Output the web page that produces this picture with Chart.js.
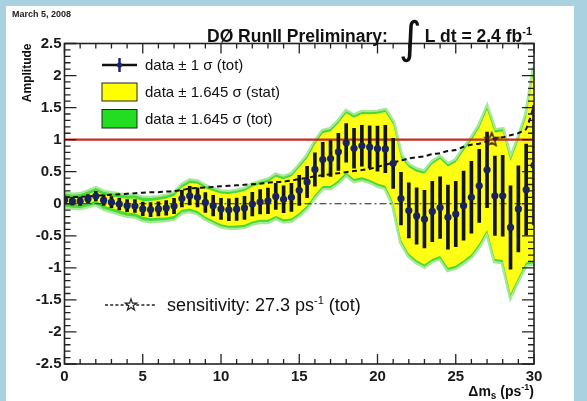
<!DOCTYPE html>
<html>
<head>
<meta charset="utf-8">
<script src="https://cdn.jsdelivr.net/npm/chart.js@4.4.1/dist/chart.umd.min.js"></script>
<style>
  html, body { margin:0; padding:0; }
  body { width:587px; height:401px; background:#a9d1e0; position:relative; overflow:hidden; font-family:'Liberation Sans', Arial, sans-serif; }
  #panel { position:absolute; left:6px; top:6px; width:568px; height:395px; background:#ffffff; }
  #c { position:absolute; left:0; top:0; }
  #ov { position:absolute; left:0; top:0; }
</style>
</head>
<body>
<div id="panel"></div>
<canvas id="c" width="587" height="401"></canvas>
<svg id="ov" width="587" height="401" xmlns="http://www.w3.org/2000/svg" font-family="'Liberation Sans', Arial, sans-serif">
  <text x="12" y="17" font-size="9" font-weight="bold" fill="#222">March 5, 2008</text>
  <text x="207" y="42" font-size="17.5" font-weight="bold" fill="#111">DØ RunII Preliminary:</text>
  <text x="399" y="53" font-size="44" font-family="'DejaVu Sans'" fill="#111">∫</text>
  <text x="532" y="42" font-size="17.5" font-weight="bold" fill="#111" text-anchor="end">L dt = 2.4 fb<tspan font-size="11" dy="-7">-1</tspan></text>
  <text transform="translate(30.5,43.5) rotate(-90)" text-anchor="end" font-size="12" font-weight="bold" fill="#111">Amplitude</text>
  <text x="534" y="396" text-anchor="end" font-size="14" font-weight="bold" fill="#111">Δm<tspan font-size="10" dy="3">s</tspan><tspan dy="-3"> (ps</tspan><tspan font-size="9" dy="-6">-1</tspan><tspan dy="6">)</tspan></text>

  <line x1="102" y1="65" x2="137" y2="65" stroke="#111" stroke-width="2.5"/>
  <line x1="119.5" y1="58" x2="119.5" y2="72" stroke="#1a2470" stroke-width="2.5"/>
  <circle cx="119.5" cy="65" r="2.6" fill="#1a2470"/>
  <text x="145" y="70.3" font-size="15" fill="#111">data ± 1 σ (tot)</text>
  <rect x="102" y="83" width="35" height="18" fill="#ffff00" stroke="#222" stroke-width="1"/>
  <text x="145" y="97" font-size="15" fill="#111">data ± 1.645 σ (stat)</text>
  <rect x="102" y="109.5" width="35" height="18.5" fill="#22dd22" stroke="#222" stroke-width="1"/>
  <text x="145" y="123.6" font-size="15" fill="#111">data ± 1.645 σ (tot)</text>

  <line x1="105" y1="305" x2="157" y2="305" stroke="#222" stroke-width="1.4" stroke-dasharray="3,2.2"/>
  <path d="M131,299 L132.4,303.2 L136.7,303.2 L133.2,305.8 L134.5,310 L131,307.4 L127.5,310 L128.8,305.8 L125.3,303.2 L129.6,303.2 Z" fill="#fff" stroke="#222" stroke-width="1.2"/>
  <text x="167" y="311" font-size="18" fill="#111">sensitivity: 27.3 ps<tspan font-size="11" dy="-7">-1</tspan><tspan dy="7"> (tot)</tspan></text>
</svg>

<script>
// ---------------- data ----------------
const deltaMs = [
  0,0.5,1,1.5,2,2.5,3,3.5,4,4.5,
  5,5.5,6,6.5,7,7.5,8,8.5,9,9.5,
  10,10.5,11,11.5,12,12.5,13,13.5,14,14.5,
  15,15.5,16,16.5,17,17.5,18,18.5,19,19.5,
  20,20.5,21,21.5,22,22.5,23,23.5,24,24.5,
  25,25.5,26,26.5,27,27.5,28,28.5,29,29.5,30
];
const amplitude = [
  0.06,0.04,0.04,0.075,0.12,0.055,0.025,-0.005,-0.03,-0.035,
  -0.08,-0.09,-0.08,-0.065,-0.035,0.08,0.125,0.1,0.02,-0.03,
  -0.08,-0.095,-0.085,-0.065,-0.005,0.03,0.045,0.115,0.07,0.1,
  0.21,0.34,0.535,0.69,0.705,0.81,0.95,0.865,0.905,0.885,
  0.86,0.855,0.63,0.08,-0.105,-0.19,-0.24,-0.12,-0.06,-0.21,
  -0.16,-0.03,0.1,0.28,0.53,0.125,0.125,-0.37,-0.08,0.22,0.6
];
const sigmaTot = [
  0.06,0.062,0.065,0.07,0.075,0.08,0.085,0.09,0.095,0.1,
  0.105,0.11,0.11,0.115,0.12,0.13,0.145,0.15,0.155,0.16,
  0.165,0.17,0.175,0.18,0.185,0.19,0.2,0.205,0.21,0.22,
  0.235,0.245,0.26,0.27,0.28,0.29,0.3,0.31,0.32,0.33,
  0.35,0.37,0.39,0.41,0.43,0.44,0.45,0.47,0.48,0.5,
  0.51,0.54,0.56,0.57,0.59,0.62,0.63,0.65,0.67,0.71,0.93
];
const sigmaStat = [
  0.03,0.032,0.035,0.04,0.045,0.05,0.055,0.06,0.065,0.07,
  0.075,0.08,0.085,0.09,0.095,0.105,0.12,0.13,0.135,0.14,
  0.145,0.15,0.155,0.16,0.165,0.17,0.18,0.185,0.19,0.2,
  0.215,0.225,0.24,0.25,0.26,0.27,0.28,0.29,0.3,0.31,
  0.33,0.35,0.37,0.39,0.41,0.42,0.43,0.45,0.46,0.48,
  0.49,0.52,0.54,0.55,0.57,0.6,0.61,0.63,0.65,0.69,0.91
];
const confFactor = 1.645;          // 95% CL multiplier used in the legend
const sensitivityMs = [27.3];      // sensitivity (tot), ps^-1
const xRange = [0, 30];
const referenceLevels = [0, 1];    // dash-dot zero line, red A=1 line
const xTickLabels = [0, 5, 10, 15, 20, 25, 30];
const yTickLabels = [2.5, 2, 1.5, 1, 0.5, 0, -0.5, -1, -1.5, -2, -2.5];

// ---------------- derived series ----------------
const pts = (f) => deltaMs.map((m, i) => ({ x: m, y: f(i) }));
const totUp  = pts(i => amplitude[i] + confFactor * sigmaTot[i]);
const totLo  = pts(i => amplitude[i] - confFactor * sigmaTot[i]);
const statUp = pts(i => amplitude[i] + confFactor * sigmaStat[i]);
const statLo = pts(i => amplitude[i] - confFactor * sigmaStat[i]);
const sensCurve = pts(i => confFactor * sigmaTot[i]);
const errBars = deltaMs.map((m, i) => ({ x: m, y: [amplitude[i] - sigmaTot[i], amplitude[i] + sigmaTot[i]] }));
const dataPts = pts(i => amplitude[i]);

function makeStar(r) {
  const s = Math.ceil(2 * r + 4);
  const c = document.createElement('canvas');
  c.width = s; c.height = s;
  const g = c.getContext('2d');
  g.beginPath();
  for (let i = 0; i < 10; i++) {
    const a = -Math.PI / 2 + i * Math.PI / 5;
    const rr = (i % 2) ? r * 0.45 : r;
    g.lineTo(s / 2 + rr * Math.cos(a), s / 2 + rr * Math.sin(a));
  }
  g.closePath();
  g.strokeStyle = '#3a2414';
  g.lineWidth = 1.6;
  g.stroke();
  return c;
}

const rootAxes = {
  id: 'rootAxes',
  afterDraw(chart) {
    const { ctx, chartArea: a, scales: { x, y } } = chart;
    ctx.save();
    ctx.strokeStyle = '#222';
    ctx.lineWidth = 1.3;
    ctx.beginPath();
    for (let v = xRange[0]; v <= xRange[1]; v += 1) {
      const px = x.getPixelForValue(v);
      const L = (v % 5 === 0) ? 10 : 5;
      ctx.moveTo(px, a.bottom); ctx.lineTo(px, a.bottom - L);
      ctx.moveTo(px, a.top); ctx.lineTo(px, a.top + L);
    }
    for (let k = -25; k <= 25; k++) {
      const py = y.getPixelForValue(k / 10);
      const L = (k % 5 === 0) ? 12 : 6;
      ctx.moveTo(a.left, py); ctx.lineTo(a.left + L, py);
      ctx.moveTo(a.right, py); ctx.lineTo(a.right - L, py);
    }
    ctx.stroke();
    ctx.lineWidth = 1.6;
    ctx.strokeRect(a.left, a.top, a.right - a.left, a.bottom - a.top);
    ctx.restore();
  }
};

const tickFont = { family: "'Liberation Sans', Arial, sans-serif", size: 15, weight: 'bold' };

new Chart(document.getElementById('c'), {
  type: 'line',
  data: {
    datasets: [
      { data: totUp, fill: '+1', backgroundColor: '#3ee03e', borderColor: 'rgba(80,210,50,0.5)', borderWidth: 4.5, pointRadius: 0, tension: 0, order: 21 },
      { data: totLo, fill: false, borderColor: 'rgba(80,210,50,0.5)', borderWidth: 4.5, pointRadius: 0, tension: 0, order: 20 },
      { data: statUp, fill: '+1', backgroundColor: '#ffff14', borderWidth: 0, pointRadius: 0, tension: 0, order: 19 },
      { data: statLo, fill: false, borderWidth: 0, pointRadius: 0, tension: 0, order: 18 },
      { data: xRange.map(v => ({ x: v, y: referenceLevels[0] })), borderColor: '#222', borderWidth: 1.2, borderDash: [7, 3, 2, 3], pointRadius: 0, fill: false, order: 15 },
      { data: xRange.map(v => ({ x: v, y: referenceLevels[1] })), borderColor: '#c92d1d', borderWidth: 2.4, pointRadius: 0, fill: false, order: 14 },
      { data: sensCurve, borderColor: '#111', borderWidth: 2, borderDash: [5, 3.5], pointRadius: 0, fill: false, tension: 0.2, order: 13 },
      { type: 'bar', data: errBars, backgroundColor: '#141414', borderWidth: 0, barThickness: 3, grouped: false, order: 3 },
      { data: dataPts, showLine: false, pointRadius: 3.6, pointBackgroundColor: '#18225e', pointBorderWidth: 0, order: 2 },
      { data: sensitivityMs.map(m => ({ x: m, y: referenceLevels[1] })), showLine: false, pointStyle: makeStar(7), pointRadius: 8, order: 1 }
    ]
  },
  options: {
    responsive: false,
    animation: false,
    devicePixelRatio: 1,
    layout: { padding: { left: 0, right: 53, top: 43.5, bottom: 7 } },
    plugins: { legend: { display: false }, tooltip: { enabled: false }, title: { display: false } },
    scales: {
      x: {
        type: 'linear', min: xRange[0], max: xRange[1], offset: false,
        grid: { display: false, drawTicks: false, tickLength: 0 },
        border: { display: false },
        afterBuildTicks: s => { s.ticks = xTickLabels.map(v => ({ value: v })); },
        ticks: { font: tickFont, color: '#1a1a1a', padding: 4, maxRotation: 0, autoSkip: false, callback: v => String(v) },
        afterFit: s => { s.height = 30; }
      },
      y: {
        type: 'linear', min: -2.5, max: 2.5,
        grid: { display: false, drawTicks: false, tickLength: 0 },
        border: { display: false },
        afterBuildTicks: s => { s.ticks = yTickLabels.map(v => ({ value: v })); },
        ticks: { font: tickFont, color: '#1a1a1a', padding: 3, autoSkip: false, callback: v => String(v) },
        afterFit: s => { s.width = 64.5; }
      }
    }
  },
  plugins: [rootAxes]
});
</script>
</body>
</html>
